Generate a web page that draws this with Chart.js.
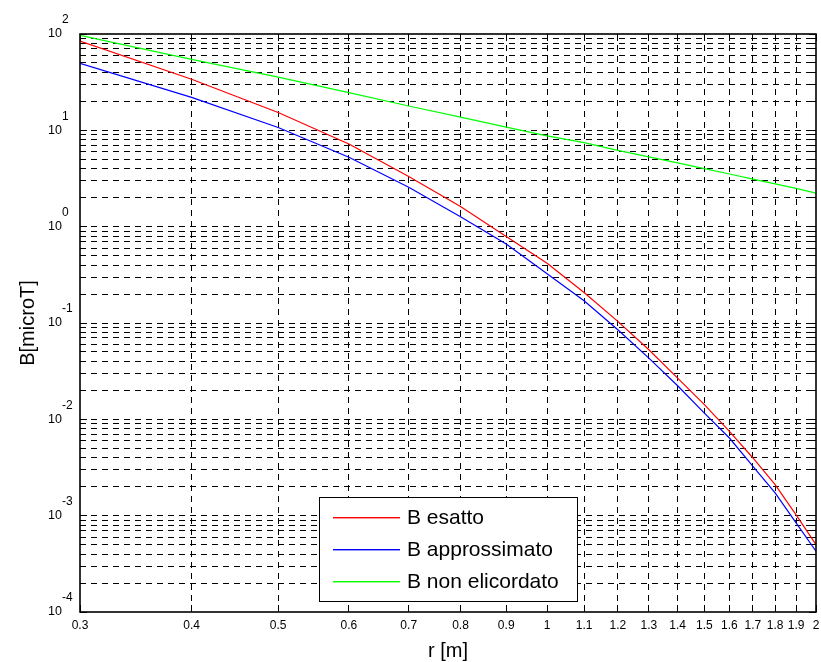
<!DOCTYPE html>
<html>
<head>
<meta charset="utf-8">
<script src="https://cdn.jsdelivr.net/npm/chart.js@4/dist/chart.umd.min.js"></script>
<style>
  html, body { margin: 0; padding: 0; background: #fff; }
  #wrap { position: relative; width: 821px; height: 662px; }
</style>
</head>
<body>
<div id="wrap"><canvas id="c" width="821" height="662"></canvas></div>
<script>
// Distance from the conductor [m]
const rValues = [0.3, 0.4, 0.5, 0.6, 0.7, 0.8, 0.9, 1.0, 1.1, 1.2, 1.3, 1.4, 1.5, 1.6, 1.7, 1.8, 1.9, 2.0];

// Magnetic field [microT]
const bEsatto = [84.5, 33.9, 15.3, 7.2, 3.31, 1.62, 0.79, 0.418, 0.207, 0.104, 0.0527, 0.0268, 0.0142, 0.0075, 0.00397, 0.0021, 0.00102, 0.0005];
const bApprossimato = [49.6, 22, 10.7, 5.26, 2.57, 1.27, 0.66, 0.324, 0.170, 0.085, 0.0432, 0.0223, 0.0116, 0.0064, 0.00324, 0.00172, 0.00084, 0.000427];
const bNonElicordato = [97, 54.6, 35.6, 24.6, 17.9, 13.7, 10.8, 8.75, 7.45, 6.2, 5.3, 4.6, 4.0, 3.52, 3.12, 2.78, 2.5, 2.23];

const seriesNames = ['B esatto', 'B approssimato', 'B non elicordato'];
const seriesColors = ['#ff0000', '#0000ff', '#00ff00'];

// Axis ticks
const xTickValues = [0.3, 0.4, 0.5, 0.6, 0.7, 0.8, 0.9, 1, 1.1, 1.2, 1.3, 1.4, 1.5, 1.6, 1.7, 1.8, 1.9, 2];
const xTickLabels = ['0.3', '0.4', '0.5', '0.6', '0.7', '0.8', '0.9', '1', '1.1', '1.2', '1.3', '1.4', '1.5', '1.6', '1.7', '1.8', '1.9', '2'];
const yDecades = [-4, -3, -2, -1, 0, 1, 2];
const yMultipliers = [1, 2, 3, 4, 5, 6, 7, 8, 9];

const xTitle = 'r [m]';
const yTitle = 'B[microT]';

const FONT = '"Liberation Sans", Arial, Helvetica, sans-serif';

function toPoints(values) {
  return rValues.map((r, i) => ({ x: r, y: values[i] }));
}

const crisp = v => Math.round(v - 0.5) + 0.5;

// Dashed grid, inner ticks, axes box, tick labels, titles and legend
const gridPlugin = {
  id: 'matlabGrid',
  beforeDatasetsDraw(chart) {
    const { ctx, chartArea: a, scales: { x, y } } = chart;
    ctx.save();
    ctx.strokeStyle = '#000';
    ctx.lineWidth = 1;
    ctx.setLineDash([6, 5]);
    xTickValues.forEach(v => {
      const px = crisp(x.getPixelForValue(v));
      if (px <= a.left + 1 || px >= a.right - 1) return;
      ctx.beginPath();
      ctx.moveTo(px, a.top);
      ctx.lineTo(px, a.bottom);
      ctx.stroke();
    });
    yDecades.forEach(d => {
      if (d === yDecades[yDecades.length - 1]) return;
      yMultipliers.forEach(m => {
        const py = crisp(y.getPixelForValue(m * Math.pow(10, d)));
        if (py <= a.top + 1 || py >= a.bottom - 1) return;
        ctx.beginPath();
        ctx.moveTo(a.left, py);
        ctx.lineTo(a.right, py);
        ctx.stroke();
      });
    });
    ctx.setLineDash([]);
    // inner tick marks
    xTickValues.forEach(v => {
      const px = crisp(x.getPixelForValue(v));
      ctx.beginPath();
      ctx.moveTo(px, a.bottom); ctx.lineTo(px, a.bottom - 7);
      ctx.moveTo(px, a.top); ctx.lineTo(px, a.top + 7);
      ctx.stroke();
    });
    yDecades.forEach(d => {
      yMultipliers.forEach(m => {
        const val = m * Math.pow(10, d);
        if (val > y.max * 1.0001) return;
        const py = crisp(y.getPixelForValue(val));
        const len = m === 1 ? 7 : 4;
        ctx.beginPath();
        ctx.moveTo(a.left, py); ctx.lineTo(a.left + len, py);
        ctx.moveTo(a.right, py); ctx.lineTo(a.right - len, py);
        ctx.stroke();
      });
    });
    ctx.restore();
  },
  afterDatasetsDraw(chart) {
    const { ctx, chartArea: a, scales: { x, y } } = chart;
    ctx.save();
    ctx.strokeStyle = '#000';
    ctx.lineWidth = 1.6;
    ctx.strokeRect(a.left, a.top, a.right - a.left, a.bottom - a.top);

    // x tick labels
    ctx.fillStyle = '#000';
    ctx.font = '12px ' + FONT;
    ctx.textAlign = 'center';
    ctx.textBaseline = 'middle';
    xTickValues.forEach((v, i) => {
      ctx.fillText(xTickLabels[i], x.getPixelForValue(v), a.bottom + 14);
    });

    // y tick labels as powers of ten
    yDecades.forEach(d => {
      const py = y.getPixelForValue(Math.pow(10, d));
      ctx.font = '12.5px ' + FONT;
      ctx.textAlign = 'right';
      ctx.textBaseline = 'middle';
      ctx.fillText('10', a.left - 18, py);
      ctx.font = '12px ' + FONT;
      ctx.textAlign = 'left';
      ctx.fillText(String(d), a.left - 18, py - 14);
    });

    // axis titles
    ctx.font = '20px ' + FONT;
    ctx.textAlign = 'center';
    ctx.textBaseline = 'middle';
    ctx.fillText(xTitle, (a.left + a.right) / 2, 651);
    ctx.save();
    ctx.translate(28, (a.top + a.bottom) / 2);
    ctx.rotate(-Math.PI / 2);
    ctx.fillText(yTitle, 0, 0);
    ctx.restore();

    // legend box
    const box = { left: 319, top: 497, right: 577, bottom: 601 };
    ctx.fillStyle = '#fff';
    ctx.fillRect(box.left, box.top, box.right - box.left, box.bottom - box.top);
    ctx.strokeStyle = '#000';
    ctx.lineWidth = 1;
    ctx.strokeRect(box.left + 0.5, box.top + 0.5, box.right - box.left, box.bottom - box.top);
    const rowY = [517, 549, 581];
    ctx.font = '21px ' + FONT;
    ctx.textAlign = 'left';
    ctx.textBaseline = 'middle';
    seriesNames.forEach((name, i) => {
      ctx.fillStyle = seriesColors[i];
      ctx.fillRect(333, rowY[i], 67, 1.4);
      ctx.fillStyle = '#000';
      ctx.fillText(name, 407, rowY[i] + 1);
    });
    ctx.restore();
  }
};

const lineSets = [bEsatto, bApprossimato, bNonElicordato];

new Chart(document.getElementById('c'), {
  type: 'line',
  data: {
    datasets: lineSets.map((vals, i) => ({
      label: seriesNames[i],
      data: toPoints(vals),
      borderColor: seriesColors[i],
      borderWidth: 1.2,
      pointRadius: 0,
      tension: 0,
      fill: false
    }))
  },
  options: {
    responsive: false,
    animation: false,
    devicePixelRatio: 1,
    layout: { padding: { left: 80, right: 5, top: 34, bottom: 50 } },
    plugins: { legend: { display: false }, tooltip: { enabled: false } },
    scales: {
      x: {
        type: 'logarithmic',
        min: 0.3,
        max: 2,
        grid: { display: false },
        border: { display: false },
        ticks: { display: false },
        afterFit: s => { s.height = 0; }
      },
      y: {
        type: 'logarithmic',
        min: 1e-4,
        max: 100,
        grid: { display: false },
        border: { display: false },
        ticks: { display: false },
        afterFit: s => { s.width = 0; }
      }
    }
  },
  plugins: [gridPlugin]
});
</script>
</body>
</html>
